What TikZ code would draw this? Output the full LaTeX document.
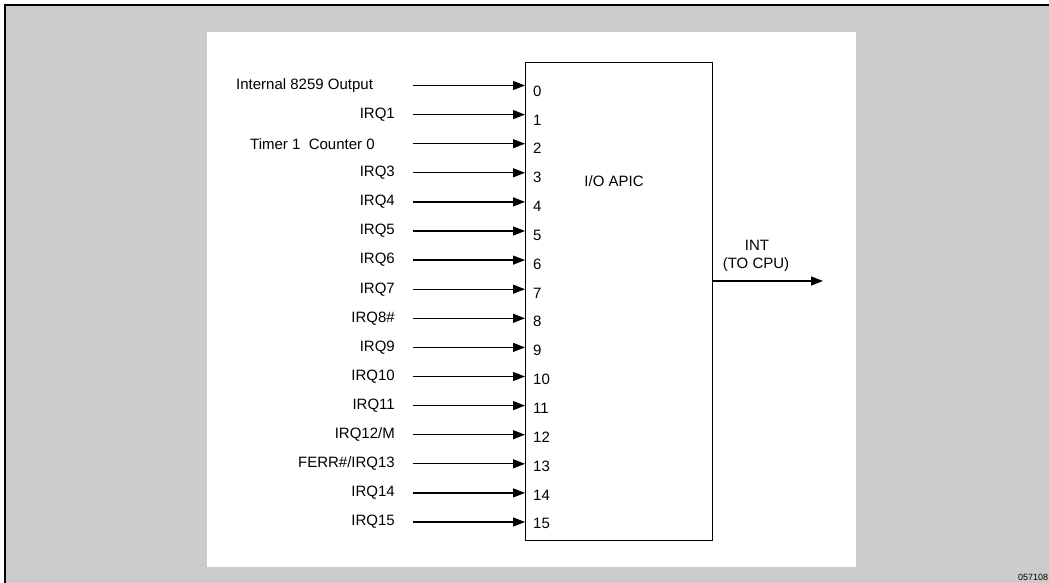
\documentclass[tikz,border=0pt]{standalone}
\usepackage{fontspec}
\setmainfont{Liberation Sans}
\usetikzlibrary{arrows.meta}
\usetikzlibrary{positioning}

\definecolor{panelgray}{HTML}{CCCCCC}

\begin{document}
\begin{tikzpicture}[x=1pt, y=-1pt, font=\fontsize{15}{18}\selectfont,
        sigarrow/.style={line width=1.3pt, -{Triangle[length=12pt,width=9pt]}},
        pinnum/.style={anchor=west, inner sep=0pt},
        siglabel/.style={anchor=east, inner sep=0pt}]
            \useasboundingbox (0,0) rectangle (1049,583);
            \clip (0,0) rectangle (1049,583);
            \draw[line width=2.5pt, fill=panelgray] (5,5) rectangle (1090,620);
            \fill[white] (207,32) rectangle (856,567);

            \node[draw, line width=1pt, inner sep=0pt, anchor=north west,
                minimum width=187pt, minimum height=478pt] (apic) at (525,62) {};
            \node (title) at (614,181) {I/O APIC};

            \foreach \i in {0,...,15} {
                \coordinate (s\i) at (413,85.5+29.1*\i);
                \draw[sigarrow] (s\i) -- (apic.west |- s\i);
                \node[pinnum] (p\i) at (533,91+28.85*\i) {\i};
            }

            \node[anchor=west, inner sep=0pt] (l0) at (236,85.5) {Internal 8259 Output};
            \node[anchor=west, inner sep=0pt] (l2) at (250,143.7) {Timer 1\ \ Counter 0};
            \foreach \i/\lbl in {1/IRQ1, 3/IRQ3, 4/IRQ4, 5/IRQ5, 6/IRQ6, 7/IRQ7, 8/IRQ8\#,
                9/IRQ9, 10/IRQ10, 11/IRQ11, 12/{IRQ12/M}, 13/{FERR\#/IRQ13}, 14/IRQ14, 15/IRQ15}
                \node[siglabel, left=18pt of s\i] (l\i) {\lbl};

            \coordinate (cpu) at (823,281);
            \draw[sigarrow] (apic.east |- cpu) -- (cpu);
            \node (int) at (757,245) {INT};
            \node (tocpu) at (756,265) {(TO CPU)};

            \node[anchor=west, inner sep=0pt, font=\fontsize{9}{10}\selectfont] (fignum) at (1018,577) {057108};
        \end{tikzpicture}
\end{document}
